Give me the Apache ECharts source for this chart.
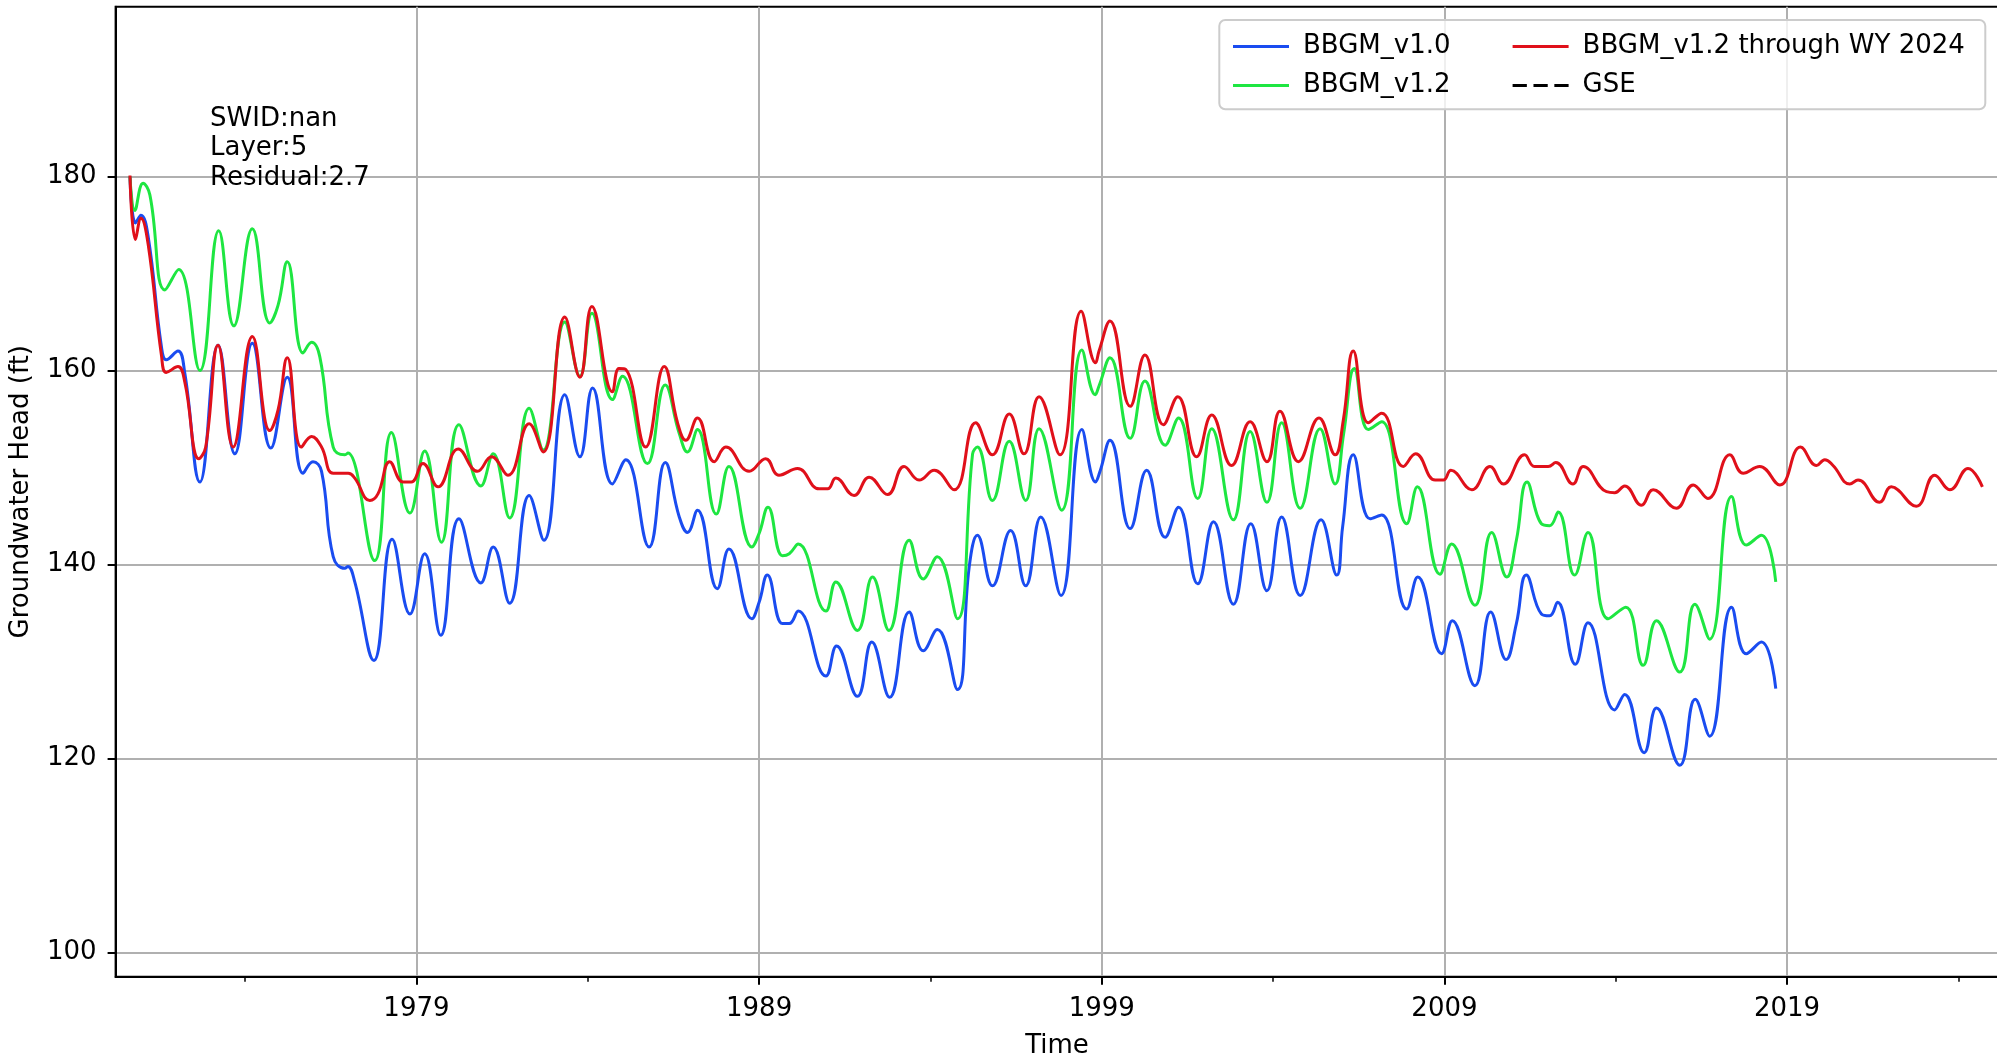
<!DOCTYPE html>
<html><head><meta charset="utf-8">
<script src="https://cdn.jsdelivr.net/npm/echarts@6/dist/echarts.min.js"></script>
<style>html,body{margin:0;padding:0;background:#fff}#c{width:1997px;height:1058px}</style>
</head><body><div id="c"></div>
<script>
const xTicks = [1979, 1989, 1999, 2009, 2019];
const xMinorTicks = [1974, 1984, 1994, 2004, 2014, 2024];
const yTicks = [100, 120, 140, 160, 180];
const seriesNames = ['BBGM_v1.0', 'BBGM_v1.2', 'BBGM_v1.2 through WY 2024', 'GSE'];
const annotationLines = ['SWID:nan', 'Layer:5', 'Residual:2.7'];

// [decimal year, head (ft)] (peaks, troughs, shoulders)
const v10 = [
[1970.64,180.0],[1970.80,175.2],[1970.96,176.0],[1971.17,173.8],[1971.56,162.4],[1971.70,161.1],
[1972.04,162.0],[1972.24,159.7],[1972.68,148.5],[1973.21,162.6],[1973.70,151.4],[1974.21,162.8],
[1974.75,152.0],[1975.23,159.3],[1975.69,149.4],[1975.98,150.6],[1976.23,149.6],[1976.57,140.8],
[1976.91,139.6],[1977.00,139.8],[1977.20,138.2],[1977.76,130.1],[1978.29,142.6],[1978.81,134.9],
[1979.24,141.1],[1979.71,132.7],[1980.24,144.7],[1980.88,138.1],[1981.24,141.8],[1981.72,136.0],
[1982.29,147.1],[1982.72,142.5],[1983.33,157.5],[1983.77,151.1],[1984.14,158.2],[1984.72,148.3],
[1985.11,150.8],[1985.79,141.8],[1986.26,150.5],[1986.67,144.9],[1986.91,143.3],[1987.20,145.6],
[1987.78,137.5],[1988.12,141.6],[1988.79,134.4],[1989.00,136.1],[1989.24,138.9],[1989.68,133.9],
[1989.88,133.9],[1990.14,135.2],[1990.95,128.5],[1991.26,131.6],[1991.87,126.4],[1992.29,132.0],
[1992.81,126.3],[1993.38,135.1],[1993.79,131.1],[1994.20,133.3],[1994.79,127.1],[1995.13,139.7],
[1995.37,143.0],[1995.81,137.8],[1996.34,143.5],[1996.78,137.8],[1997.22,144.9],[1997.81,136.8],
[1998.42,153.9],[1998.82,148.5],[1998.95,149.6],[1999.24,152.8],[1999.83,143.7],[2000.31,149.7],
[2000.85,142.8],[2001.24,145.9],[2001.80,138.0],[2002.26,144.4],[2002.84,135.9],[2003.35,144.2],
[2003.82,137.3],[2004.25,144.9],[2004.79,136.8],[2005.40,144.6],[2005.86,138.9],[2006.03,143.9],
[2006.34,151.3],[2006.83,144.7],[2007.17,145.1],[2007.90,135.4],[2008.22,138.7],[2008.92,130.8],
[2009.23,134.2],[2009.89,127.5],[2010.35,135.1],[2010.80,130.2],[2011.10,133.9],[2011.39,138.9],
[2011.83,134.9],[2012.07,134.7],[2012.30,136.1],[2012.82,129.7],[2013.19,134.0],[2013.97,125.0],
[2014.26,126.6],[2014.83,120.6],[2015.19,125.2],[2015.87,119.3],[2016.32,126.1],[2016.74,122.3],
[2017.38,135.6],[2017.81,130.8],[2018.25,132.0],[2018.67,127.2]
];
const v12 = [
[1970.64,180.0],[1970.78,176.5],[1971.02,179.3],[1971.22,178.1],[1971.66,168.3],[1972.06,170.4],
[1972.68,160.0],[1973.23,174.4],[1973.67,164.6],[1974.21,174.6],[1974.72,164.9],[1974.96,166.7],
[1975.23,171.2],[1975.69,161.8],[1975.94,162.9],[1976.18,161.4],[1976.57,152.1],[1976.91,151.3],
[1977.00,151.5],[1977.78,140.4],[1978.27,153.6],[1978.81,145.3],[1979.24,151.7],[1979.73,142.3],
[1980.24,154.4],[1980.88,148.1],[1981.24,151.4],[1981.72,144.8],[1982.29,156.1],[1982.70,151.8],
[1983.33,165.0],[1983.77,159.4],[1984.12,165.9],[1984.72,157.0],[1985.01,159.4],[1985.74,150.4],
[1986.26,158.5],[1986.67,153.5],[1986.91,151.6],[1987.20,153.9],[1987.75,145.2],[1988.12,150.1],
[1988.79,141.8],[1989.00,143.2],[1989.26,145.9],[1989.68,140.9],[1989.88,141.1],[1990.14,142.1],
[1990.95,135.2],[1991.24,138.2],[1991.87,133.2],[1992.31,138.7],[1992.79,133.2],[1993.38,142.5],
[1993.79,138.5],[1994.20,140.8],[1994.79,134.4],[1995.23,151.4],[1995.37,152.1],[1995.81,146.6],
[1996.30,152.7],[1996.78,146.6],[1997.17,154.0],[1997.83,145.6],[1998.42,162.1],[1998.81,157.5],
[1998.93,158.5],[1999.24,161.3],[1999.83,153.0],[2000.26,158.9],[2000.85,152.3],[2001.24,155.1],
[2001.80,146.8],[2002.21,154.0],[2002.84,144.6],[2003.33,153.7],[2003.82,146.4],[2004.25,154.6],
[2004.79,145.8],[2005.37,154.0],[2005.81,148.3],[2006.06,153.5],[2006.37,160.2],[2006.78,153.9],
[2007.17,154.7],[2007.90,144.2],[2008.21,148.0],[2008.87,139.0],[2009.21,142.1],[2009.89,135.8],
[2010.38,143.3],[2010.82,138.7],[2011.10,142.5],[2011.41,148.5],[2011.83,144.2],[2012.07,144.0],
[2012.32,145.4],[2012.80,138.9],[2013.19,143.3],[2013.78,134.4],[2014.29,135.6],[2014.80,129.6],
[2015.19,134.2],[2015.87,128.9],[2016.31,135.9],[2016.74,132.3],[2017.38,147.0],[2017.81,142.0],
[2018.25,143.0],[2018.67,138.2]
];
const v12wy = [
[1970.64,180.1],[1970.80,173.5],[1970.96,175.7],[1971.17,173.0],[1971.56,161.5],[1971.70,159.8],
[1972.04,160.4],[1972.24,158.8],[1972.65,150.9],[1972.85,152.1],[1973.21,162.6],[1973.65,152.1],
[1974.21,163.5],[1974.72,153.8],[1974.96,155.9],[1975.23,161.3],[1975.64,152.1],[1975.94,153.2],
[1976.23,152.1],[1976.57,149.4],[1977.01,149.4],[1977.20,148.9],[1977.64,146.6],[1977.88,147.3],
[1978.22,150.6],[1978.61,148.5],[1978.85,148.5],[1979.19,150.4],[1979.63,148.0],[1980.22,151.9],
[1980.78,149.6],[1981.19,151.1],[1981.67,149.2],[1982.29,154.5],[1982.70,151.6],[1983.33,165.5],
[1983.77,159.3],[1984.12,166.6],[1984.72,157.8],[1984.91,160.2],[1985.11,160.1],[1985.69,152.1],
[1986.23,160.4],[1986.62,154.6],[1986.86,152.8],[1987.20,155.1],[1987.69,150.6],[1988.03,152.1],
[1988.71,149.6],[1989.19,150.9],[1989.58,149.2],[1990.12,149.9],[1990.75,147.8],[1991.00,147.8],
[1991.24,148.9],[1991.77,147.1],[1992.21,149.0],[1992.75,147.2],[1993.23,150.1],[1993.67,148.7],
[1994.11,149.7],[1994.69,147.7],[1995.32,154.6],[1995.81,151.3],[1996.30,155.5],[1996.73,151.4],
[1997.17,157.3],[1997.78,151.3],[1998.40,166.1],[1998.82,160.8],[1998.92,162.0],[1999.24,165.1],
[1999.83,156.3],[2000.26,161.6],[2000.80,154.4],[2001.22,157.3],[2001.77,151.1],[2002.21,155.4],
[2002.79,150.2],[2003.33,154.7],[2003.82,150.6],[2004.20,155.8],[2004.74,150.6],[2005.34,155.1],
[2005.81,151.3],[2006.05,154.9],[2006.34,162.0],[2006.78,154.6],[2007.17,155.6],[2007.80,150.1],
[2008.16,151.4],[2008.73,148.7],[2008.97,148.7],[2009.19,149.7],[2009.80,147.7],[2010.33,150.1],
[2010.72,148.3],[2011.34,151.3],[2011.63,150.1],[2012.03,150.1],[2012.25,150.5],[2012.75,148.3],
[2013.05,150.1],[2013.73,147.5],[2013.97,147.4],[2014.26,148.1],[2014.75,146.1],[2015.09,147.7],
[2015.77,145.8],[2016.26,148.2],[2016.69,146.8],[2017.33,151.3],[2017.72,149.4],[2018.20,150.1],
[2018.79,148.2],[2019.39,152.1],[2019.86,150.2],[2020.10,150.8],[2020.34,150.2],[2020.83,148.3],
[2021.07,148.7],[2021.70,146.4],[2022.04,148.0],[2022.77,146.0],[2023.31,149.2],[2023.75,147.7],
[2024.28,149.9],[2024.70,148.0]
];
const gse = [];

const FONT = 'DejaVu Sans';
const colors = ['#1a4cf0', '#1ee641', '#e0101a', '#000000'];
const solidIcon = 'path://M0,0H56V3H0Z';
const dashIcon = 'path://M0,0H14V3H0Z M20.5,0H34.5V3H20.5Z M41,0H55V3H41Z';

const chart = echarts.init(document.getElementById('c'), null, {renderer: 'canvas'});
const mkLine = (name, data, color, dashed) => ({
  name, type: 'line', data, smooth: 0.45, symbol: 'none', showSymbol: false,
  color, itemStyle: {color}, lineStyle: {color, width: 3, type: dashed ? [14, 6.5] : 'solid'},
  animation: false, silent: true
});
const legendCommon = {
  orient: 'vertical', itemWidth: 56, itemHeight: 26, itemGap: 13,
  textStyle: {fontFamily: FONT, fontSize: 26, color: '#000', padding: [0, 0, 0, 9]},
  itemStyle: {borderWidth: 0}, selectedMode: false, animation: false
};
chart.setOption({
  animation: false,
  backgroundColor: '#fff',
  grid: {left: 115.6, right: -1.5, top: 6.7, bottom: 81.3, outerBoundsMode: 'none', containLabel: false,
         show: true, borderColor: '#000', borderWidth: 2, backgroundColor: 'transparent'},
  xAxis: [{
    type: 'value', min: 1970.22, max: 2025.17, position: 'bottom',
    name: 'Time', nameLocation: 'middle', nameGap: 57,
    nameTextStyle: {fontFamily: FONT, fontSize: 26, color: '#000'},
    axisLine: {show: true, lineStyle: {color: '#000', width: 2}},
    axisTick: {show: true, length: 8, lineStyle: {color: '#000', width: 2}, customValues: xTicks},
    axisLabel: {show: true, margin: 20, fontFamily: FONT, fontSize: 26, color: '#000', customValues: xTicks, formatter: v => String(v)},
    splitLine: {show: true, lineStyle: {color: '#b0b0b0', width: 2}}
  }, {
    type: 'value', min: 1970.22, max: 2025.17, position: 'bottom', gridIndex: 0,
    axisLine: {show: false},
    axisTick: {show: true, length: 5, lineStyle: {color: '#000', width: 1.5}, customValues: xMinorTicks},
    axisLabel: {show: false},
    splitLine: {show: false}
  }],
  yAxis: {
    type: 'value', min: 97.5, max: 197.5,
    name: 'Groundwater Head (ft)', nameLocation: 'middle', nameRotate: 90, nameGap: 81,
    nameTextStyle: {fontFamily: FONT, fontSize: 26, color: '#000'},
    axisLine: {show: true, lineStyle: {color: '#000', width: 2}},
    axisTick: {show: true, length: 8, lineStyle: {color: '#000', width: 2}, customValues: yTicks},
    axisLabel: {show: true, margin: 19, fontFamily: FONT, fontSize: 26, color: '#000', customValues: yTicks, formatter: v => String(v)},
    splitLine: {show: true, lineStyle: {color: '#b0b0b0', width: 2}}
  },
  legend: [
    Object.assign({}, legendCommon, {left: 1228, top: 28.5,
      data: [{name: seriesNames[0], icon: solidIcon}, {name: seriesNames[1], icon: solidIcon}]}),
    Object.assign({}, legendCommon, {left: 1507.6, top: 28.5,
      data: [{name: seriesNames[2], icon: solidIcon}, {name: seriesNames[3], icon: dashIcon}]})
  ],
  graphic: [
    {type: 'rect', z: 1, zlevel: 0, shape: {x: 1219.3, y: 20, width: 766, height: 89.3, r: 6},
     style: {fill: 'rgba(255,255,255,0.8)', stroke: '#cccccc', lineWidth: 2}},
    {type: 'text', z: 10, left: 210, top: 104,
     style: {text: annotationLines.join('\n'), font: '26px "DejaVu Sans"', fill: '#000', lineHeight: 29.5}}
  ],
  series: [
    mkLine(seriesNames[0], v10, colors[0], false),
    mkLine(seriesNames[1], v12, colors[1], false),
    mkLine(seriesNames[2], v12wy, colors[2], false),
    mkLine(seriesNames[3], gse, colors[3], true)
  ]
});
</script></body></html>
